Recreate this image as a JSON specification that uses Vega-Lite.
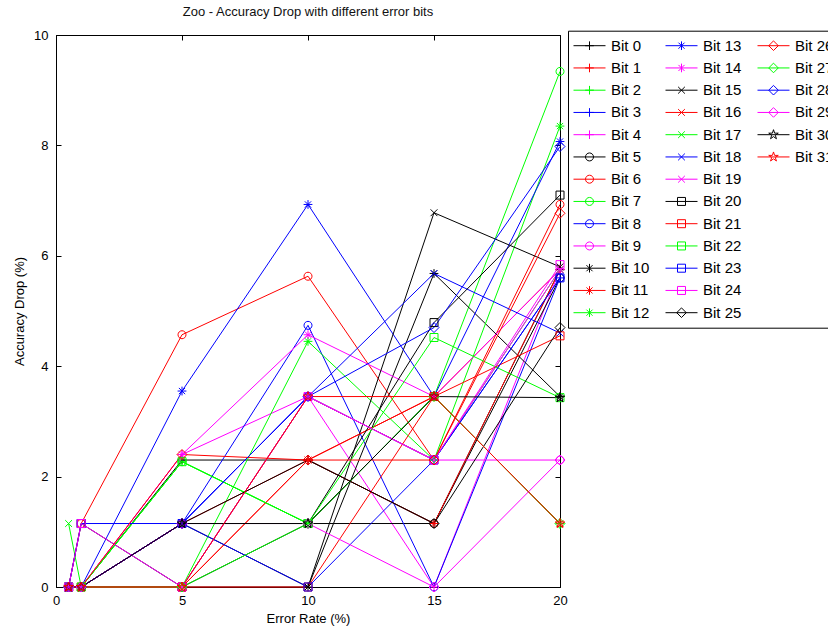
{
  "$schema": "https://vega.github.io/schema/vega-lite/v6.json",
  "width": 504,
  "height": 552,
  "autosize": {"type": "none"},
  "padding": {"left": 56, "top": 35, "right": 268, "bottom": 48},
  "background": "white",
  "title": {"text": "Zoo - Accuracy Drop with different error bits", "font": "Liberation Sans", "fontSize": 13, "fontWeight": "normal", "color": "#111111", "offset": 10, "anchor": "middle"},
  "config": {
    "view": {"stroke": "black", "strokeWidth": 1},
    "axis": {"domainColor": "black", "tickColor": "black", "labelColor": "black", "titleColor": "black", "labelFont": "Liberation Sans", "titleFont": "Liberation Sans", "labelFontSize": 13, "titleFontSize": 13, "titleFontWeight": "normal", "grid": false, "tickSize": -5, "labelFlush": false}
  },
  "data": {"values": [
    {"bit": "Bit 0", "x": 0.5, "y": 0}, {"bit": "Bit 0", "x": 1, "y": 0}, {"bit": "Bit 0", "x": 5, "y": 2.3}, {"bit": "Bit 0", "x": 10, "y": 2.3}, {"bit": "Bit 0", "x": 15, "y": 1.15}, {"bit": "Bit 0", "x": 20, "y": 5.75},
    {"bit": "Bit 1", "x": 0.5, "y": 0}, {"bit": "Bit 1", "x": 1, "y": 0}, {"bit": "Bit 1", "x": 5, "y": 0}, {"bit": "Bit 1", "x": 10, "y": 2.3}, {"bit": "Bit 1", "x": 15, "y": 3.45}, {"bit": "Bit 1", "x": 20, "y": 5.75},
    {"bit": "Bit 2", "x": 0.5, "y": 0}, {"bit": "Bit 2", "x": 1, "y": 0}, {"bit": "Bit 2", "x": 5, "y": 2.27}, {"bit": "Bit 2", "x": 10, "y": 1.15}, {"bit": "Bit 2", "x": 15, "y": 3.45}, {"bit": "Bit 2", "x": 20, "y": 1.15},
    {"bit": "Bit 3", "x": 0.5, "y": 0}, {"bit": "Bit 3", "x": 1, "y": 0}, {"bit": "Bit 3", "x": 5, "y": 1.15}, {"bit": "Bit 3", "x": 10, "y": 3.45}, {"bit": "Bit 3", "x": 15, "y": 2.3}, {"bit": "Bit 3", "x": 20, "y": 5.6},
    {"bit": "Bit 4", "x": 0.5, "y": 0}, {"bit": "Bit 4", "x": 1, "y": 0}, {"bit": "Bit 4", "x": 5, "y": 2.4}, {"bit": "Bit 4", "x": 10, "y": 3.45}, {"bit": "Bit 4", "x": 15, "y": 0}, {"bit": "Bit 4", "x": 20, "y": 5.75},
    {"bit": "Bit 5", "x": 0.5, "y": 0}, {"bit": "Bit 5", "x": 1, "y": 0}, {"bit": "Bit 5", "x": 5, "y": 1.15}, {"bit": "Bit 5", "x": 10, "y": 1.15}, {"bit": "Bit 5", "x": 15, "y": 1.15}, {"bit": "Bit 5", "x": 20, "y": 5.6},
    {"bit": "Bit 6", "x": 0.5, "y": 0}, {"bit": "Bit 6", "x": 1, "y": 1.15}, {"bit": "Bit 6", "x": 5, "y": 4.57}, {"bit": "Bit 6", "x": 10, "y": 5.63}, {"bit": "Bit 6", "x": 15, "y": 2.3}, {"bit": "Bit 6", "x": 20, "y": 6.93},
    {"bit": "Bit 7", "x": 0.5, "y": 0}, {"bit": "Bit 7", "x": 1, "y": 0}, {"bit": "Bit 7", "x": 5, "y": 2.27}, {"bit": "Bit 7", "x": 10, "y": 1.15}, {"bit": "Bit 7", "x": 15, "y": 3.45}, {"bit": "Bit 7", "x": 20, "y": 9.34},
    {"bit": "Bit 8", "x": 0.5, "y": 0}, {"bit": "Bit 8", "x": 1, "y": 0}, {"bit": "Bit 8", "x": 5, "y": 1.15}, {"bit": "Bit 8", "x": 10, "y": 4.74}, {"bit": "Bit 8", "x": 15, "y": 0}, {"bit": "Bit 8", "x": 20, "y": 5.6},
    {"bit": "Bit 9", "x": 0.5, "y": 0}, {"bit": "Bit 9", "x": 1, "y": 0}, {"bit": "Bit 9", "x": 5, "y": 0}, {"bit": "Bit 9", "x": 10, "y": 3.45}, {"bit": "Bit 9", "x": 15, "y": 2.3}, {"bit": "Bit 9", "x": 20, "y": 2.3},
    {"bit": "Bit 10", "x": 0.5, "y": 0}, {"bit": "Bit 10", "x": 1, "y": 0}, {"bit": "Bit 10", "x": 5, "y": 1.15}, {"bit": "Bit 10", "x": 10, "y": 0}, {"bit": "Bit 10", "x": 15, "y": 5.68}, {"bit": "Bit 10", "x": 20, "y": 3.45},
    {"bit": "Bit 11", "x": 0.5, "y": 0}, {"bit": "Bit 11", "x": 1, "y": 0}, {"bit": "Bit 11", "x": 5, "y": 0}, {"bit": "Bit 11", "x": 10, "y": 2.3}, {"bit": "Bit 11", "x": 15, "y": 1.15}, {"bit": "Bit 11", "x": 20, "y": 5.75},
    {"bit": "Bit 12", "x": 0.5, "y": 0}, {"bit": "Bit 12", "x": 1, "y": 0}, {"bit": "Bit 12", "x": 5, "y": 0}, {"bit": "Bit 12", "x": 10, "y": 4.45}, {"bit": "Bit 12", "x": 15, "y": 2.3}, {"bit": "Bit 12", "x": 20, "y": 8.35},
    {"bit": "Bit 13", "x": 0.5, "y": 0}, {"bit": "Bit 13", "x": 1, "y": 0}, {"bit": "Bit 13", "x": 5, "y": 3.55}, {"bit": "Bit 13", "x": 10, "y": 6.93}, {"bit": "Bit 13", "x": 15, "y": 3.45}, {"bit": "Bit 13", "x": 20, "y": 8.07},
    {"bit": "Bit 14", "x": 0.5, "y": 0}, {"bit": "Bit 14", "x": 1, "y": 0}, {"bit": "Bit 14", "x": 5, "y": 2.4}, {"bit": "Bit 14", "x": 10, "y": 4.57}, {"bit": "Bit 14", "x": 15, "y": 3.45}, {"bit": "Bit 14", "x": 20, "y": 5.75},
    {"bit": "Bit 15", "x": 0.5, "y": 0}, {"bit": "Bit 15", "x": 1, "y": 0}, {"bit": "Bit 15", "x": 5, "y": 0}, {"bit": "Bit 15", "x": 10, "y": 0}, {"bit": "Bit 15", "x": 15, "y": 6.78}, {"bit": "Bit 15", "x": 20, "y": 5.8},
    {"bit": "Bit 16", "x": 0.5, "y": 0}, {"bit": "Bit 16", "x": 1, "y": 0}, {"bit": "Bit 16", "x": 5, "y": 1.15}, {"bit": "Bit 16", "x": 10, "y": 2.3}, {"bit": "Bit 16", "x": 15, "y": 3.45}, {"bit": "Bit 16", "x": 20, "y": 1.15},
    {"bit": "Bit 17", "x": 0.5, "y": 1.15}, {"bit": "Bit 17", "x": 1, "y": 0}, {"bit": "Bit 17", "x": 5, "y": 0}, {"bit": "Bit 17", "x": 10, "y": 3.45}, {"bit": "Bit 17", "x": 15, "y": 2.3}, {"bit": "Bit 17", "x": 20, "y": 5.75},
    {"bit": "Bit 18", "x": 0.5, "y": 0}, {"bit": "Bit 18", "x": 1, "y": 0}, {"bit": "Bit 18", "x": 5, "y": 1.15}, {"bit": "Bit 18", "x": 10, "y": 3.45}, {"bit": "Bit 18", "x": 15, "y": 5.68}, {"bit": "Bit 18", "x": 20, "y": 4.6},
    {"bit": "Bit 19", "x": 0.5, "y": 0}, {"bit": "Bit 19", "x": 1, "y": 0}, {"bit": "Bit 19", "x": 5, "y": 0}, {"bit": "Bit 19", "x": 10, "y": 3.45}, {"bit": "Bit 19", "x": 15, "y": 2.3}, {"bit": "Bit 19", "x": 20, "y": 5.75},
    {"bit": "Bit 20", "x": 0.5, "y": 0}, {"bit": "Bit 20", "x": 1, "y": 1.15}, {"bit": "Bit 20", "x": 5, "y": 0}, {"bit": "Bit 20", "x": 10, "y": 1.15}, {"bit": "Bit 20", "x": 15, "y": 4.79}, {"bit": "Bit 20", "x": 20, "y": 7.1},
    {"bit": "Bit 21", "x": 0.5, "y": 0}, {"bit": "Bit 21", "x": 1, "y": 0}, {"bit": "Bit 21", "x": 5, "y": 0}, {"bit": "Bit 21", "x": 10, "y": 0}, {"bit": "Bit 21", "x": 15, "y": 3.45}, {"bit": "Bit 21", "x": 20, "y": 4.55},
    {"bit": "Bit 22", "x": 0.5, "y": 0}, {"bit": "Bit 22", "x": 1, "y": 0}, {"bit": "Bit 22", "x": 5, "y": 2.27}, {"bit": "Bit 22", "x": 10, "y": 1.15}, {"bit": "Bit 22", "x": 15, "y": 4.52}, {"bit": "Bit 22", "x": 20, "y": 3.43},
    {"bit": "Bit 23", "x": 0.5, "y": 0}, {"bit": "Bit 23", "x": 1, "y": 1.15}, {"bit": "Bit 23", "x": 5, "y": 1.15}, {"bit": "Bit 23", "x": 10, "y": 0}, {"bit": "Bit 23", "x": 15, "y": 2.3}, {"bit": "Bit 23", "x": 20, "y": 5.6},
    {"bit": "Bit 24", "x": 0.5, "y": 0}, {"bit": "Bit 24", "x": 1, "y": 1.15}, {"bit": "Bit 24", "x": 5, "y": 0}, {"bit": "Bit 24", "x": 10, "y": 3.45}, {"bit": "Bit 24", "x": 15, "y": 2.3}, {"bit": "Bit 24", "x": 20, "y": 5.84},
    {"bit": "Bit 25", "x": 0.5, "y": 0}, {"bit": "Bit 25", "x": 1, "y": 0}, {"bit": "Bit 25", "x": 5, "y": 1.15}, {"bit": "Bit 25", "x": 10, "y": 2.3}, {"bit": "Bit 25", "x": 15, "y": 1.15}, {"bit": "Bit 25", "x": 20, "y": 4.7},
    {"bit": "Bit 26", "x": 0.5, "y": 0}, {"bit": "Bit 26", "x": 1, "y": 0}, {"bit": "Bit 26", "x": 5, "y": 2.4}, {"bit": "Bit 26", "x": 10, "y": 2.3}, {"bit": "Bit 26", "x": 15, "y": 2.3}, {"bit": "Bit 26", "x": 20, "y": 6.77},
    {"bit": "Bit 27", "x": 0.5, "y": 0}, {"bit": "Bit 27", "x": 1, "y": 0}, {"bit": "Bit 27", "x": 5, "y": 0}, {"bit": "Bit 27", "x": 10, "y": 1.15}, {"bit": "Bit 27", "x": 15, "y": 3.45}, {"bit": "Bit 27", "x": 20, "y": 1.15},
    {"bit": "Bit 28", "x": 0.5, "y": 0}, {"bit": "Bit 28", "x": 1, "y": 0}, {"bit": "Bit 28", "x": 5, "y": 1.15}, {"bit": "Bit 28", "x": 10, "y": 3.45}, {"bit": "Bit 28", "x": 15, "y": 4.7}, {"bit": "Bit 28", "x": 20, "y": 7.98},
    {"bit": "Bit 29", "x": 0.5, "y": 0}, {"bit": "Bit 29", "x": 1, "y": 0}, {"bit": "Bit 29", "x": 5, "y": 1.15}, {"bit": "Bit 29", "x": 10, "y": 1.15}, {"bit": "Bit 29", "x": 15, "y": 0}, {"bit": "Bit 29", "x": 20, "y": 2.3},
    {"bit": "Bit 30", "x": 0.5, "y": 0}, {"bit": "Bit 30", "x": 1, "y": 0}, {"bit": "Bit 30", "x": 5, "y": 1.15}, {"bit": "Bit 30", "x": 10, "y": 1.15}, {"bit": "Bit 30", "x": 15, "y": 3.45}, {"bit": "Bit 30", "x": 20, "y": 3.43},
    {"bit": "Bit 31", "x": 0.5, "y": 0}, {"bit": "Bit 31", "x": 1, "y": 0}, {"bit": "Bit 31", "x": 5, "y": 0}, {"bit": "Bit 31", "x": 10, "y": 3.45}, {"bit": "Bit 31", "x": 15, "y": 3.45}, {"bit": "Bit 31", "x": 20, "y": 1.15}
  ]},
  "encoding": {
    "x": {"field": "x", "type": "quantitative", "scale": {"domain": [0, 20], "nice": false, "zero": false}, "axis": {"title": "Error Rate (%)", "values": [0, 5, 10, 15, 20], "labelPadding": 12, "titlePadding": 5}},
    "y": {"field": "y", "type": "quantitative", "scale": {"domain": [0, 10], "nice": false}, "axis": {"title": "Accuracy Drop (%)", "values": [0, 2, 4, 6, 8, 10], "labelPadding": 13, "titlePadding": 7}},
    "color": {"field": "bit", "type": "nominal",
      "scale": {
        "domain": ["Bit 0", "Bit 1", "Bit 2", "Bit 3", "Bit 4", "Bit 5", "Bit 6", "Bit 7", "Bit 8", "Bit 9", "Bit 10", "Bit 11", "Bit 12", "Bit 13", "Bit 14", "Bit 15", "Bit 16", "Bit 17", "Bit 18", "Bit 19", "Bit 20", "Bit 21", "Bit 22", "Bit 23", "Bit 24", "Bit 25", "Bit 26", "Bit 27", "Bit 28", "Bit 29", "Bit 30", "Bit 31", "_1", "_2", "_3", "_4", "_5", "_6", "_7"],
        "range": ["#000000", "#ff0000", "#00ff00", "#0000ff", "#ff00ff", "#000000", "#ff0000", "#00ff00", "#0000ff", "#ff00ff", "#000000", "#ff0000", "#00ff00", "#0000ff", "#ff00ff", "#000000", "#ff0000", "#00ff00", "#0000ff", "#ff00ff", "#000000", "#ff0000", "#00ff00", "#0000ff", "#ff00ff", "#000000", "#ff0000", "#00ff00", "#0000ff", "#ff00ff", "#000000", "#ff0000", "#ffffff", "#ffffff", "#ffffff", "#ffffff", "#ffffff", "#ffffff", "#ffffff"]},
      "legend": {"orient": "none", "legendX": 512, "legendY": -4.3, "title": null, "padding": 5, "strokeColor": "black", "fillColor": "white", "columns": 3, "columnPadding": 15, "rowPadding": 2.25, "symbolSize": 1024, "clipHeight": 20, "symbolLimit": 100, "labelFont": "Liberation Sans", "labelFontSize": 15, "labelColor": "black", "labelOffset": 5, "symbolStrokeWidth": 1, "labelLimit": 200,
        "labelExpr": "indexof(datum.label, '_') === 0 ? '' : datum.label",
        "encoding": {"symbols": {"size": {"value": 1024}, "fillOpacity": {"value": 0}, "strokeWidth": {"value": 1}, "shape": {"value": {"expr": "indexof(datum.value, '_') === 0 ? 'M0,0' : ['M-0.27,0L0.27,0M0,-0.27L0,0.27M-1,0L1,0','M0.25,0A0.25,0.25,0,1,1,-0.25,0A0.25,0.25,0,1,1,0.25,0ZM-1,0L1,0','M0,-0.27L0,0.27M-0.19,-0.19L0.19,0.19M-0.19,0.19L0.19,-0.19M-1,0L1,0','M-0.21,-0.21L0.21,0.21M-0.21,0.21L0.21,-0.21M-1,0L1,0','M-0.25,-0.25L0.25,-0.25L0.25,0.25L-0.25,0.25ZM-1,0L1,0','M0,-0.3L0.3,0L0,0.3L-0.3,0ZM-1,0L1,0','M0,-0.3125L0.07,-0.097L0.297,-0.097L0.113,0.037L0.184,0.253L0,0.119L-0.184,0.253L-0.113,0.037L-0.297,-0.097L-0.07,-0.097ZM-1,0L1,0'][floor(toNumber(slice(datum.value,4))/5)]"}}}}}}
  },
  "layer": [
    {"mark": {"type": "line", "strokeWidth": 1}},
    {"mark": {"type": "point", "filled": false, "fillOpacity": 0, "size": 64, "opacity": 1, "strokeWidth": 1,
      "shape": {"expr": "['M-1.1,0L1.1,0M0,-1.1L0,1.1','M1,0A1,1,0,1,1,-1,0A1,1,0,1,1,1,0Z','M-1.1,0L1.1,0M0,-1.1L0,1.1M-0.78,-0.78L0.78,0.78M-0.78,0.78L0.78,-0.78','M-0.85,-0.85L0.85,0.85M-0.85,0.85L0.85,-0.85','M-1,-1L1,-1L1,1L-1,1Z','M0,-1.25L1.25,0L0,1.25L-1.25,0Z','M0,-1.25L0.281,-0.386L1.189,-0.386L0.454,0.148L0.735,1.011L0,0.478L-0.735,1.011L-0.454,0.148L-1.189,-0.386L-0.281,-0.386Z'][floor(toNumber(slice(datum.bit,4))/5)]"}},
     "encoding": {
       "x": {"field": "x", "type": "quantitative", "axis": null},
       "y": {"field": "y", "type": "quantitative", "axis": null}
     }},
    {
      "mark": {"type": "point", "opacity": 0},
      "encoding": {
        "x": {"field": "x", "type": "quantitative", "axis": {"orient": "top", "labels": false, "title": null, "values": [0, 5, 10, 15, 20], "domain": false}},
        "y": {"field": "y", "type": "quantitative", "axis": {"orient": "right", "labels": false, "title": null, "values": [0, 2, 4, 6, 8, 10], "domain": false}},
        "color": {"value": "transparent"}
      }
    }
  ],
  "resolve": {"axis": {"x": "independent", "y": "independent"}}
}
